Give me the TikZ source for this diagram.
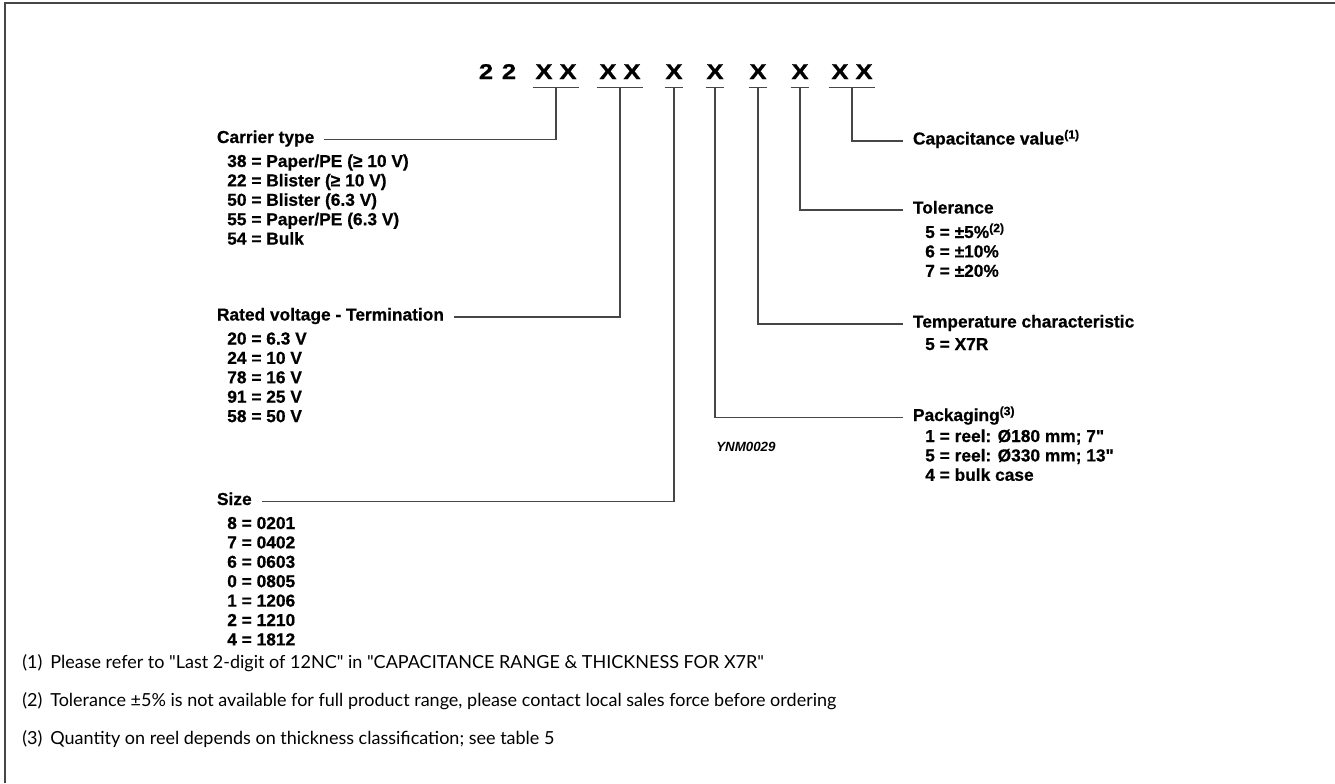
\documentclass[tikz,border=0pt]{standalone}
\usepackage{fontspec}
\setmainfont{Liberation Sans}[BoldFeatures={FakeBold=0.6}]
\newfontfamily\codefont{Liberation Sans}[BoldFeatures={FakeStretch=1.2,FakeBold=1}]
\newfontfamily\notefont{Lato}
\usetikzlibrary{positioning,calc}
\definecolor{rulegray}{RGB}{70,70,70}
\newcommand{\lst}[1]{\begin{tabular}[t]{@{}l@{}}#1\end{tabular}}

\begin{document}
\begin{tikzpicture}[x=0.75pt,y=-0.75pt,
  code/.style={font=\codefont\fontsize{16}{18}\selectfont\bfseries,inner xsep=0pt,inner ysep=6pt,anchor=base},
  two/.style={code,minimum width=34.5pt},
  one/.style={code,minimum width=13.5pt},
  head/.style={font=\fontsize{13}{14.55}\selectfont\bfseries,inner sep=0pt,outer xsep=7.5pt,anchor=base west},
  items/.style={font=\fontsize{13}{14.55}\selectfont\bfseries,inner sep=0pt,anchor=base west},
  note/.style={font=\notefont\fontsize{13.5}{16}\selectfont,inner sep=0pt,anchor=base west},
  conn/.style={draw=rulegray,line width=0.8pt}]
\useasboundingbox (0,0) rectangle (1335,783);
\draw[rulegray,line width=1pt] (5,783) -- (5,3) -- (1335,3);

% type code
\node[code] (d1) at (486,79) {2};
\node[code] (d2) at (509,79) {2};
\node[two] (g1) at (556,79) {X\kern5.25pt X};
\node[two] (g2) at (620,79) {X\kern5.25pt X};
\node[one] (g3) at (674,79) {X};
\node[one] (g4) at (715,79) {X};
\node[one] (g5) at (758,79) {X};
\node[one] (g6) at (800,79) {X};
\node[two] (g7) at (852,79) {X\kern5.25pt X};
\foreach \g in {g1,g2,g3,g4,g5,g6,g7}
  \draw[conn] (\g.south west) -- (\g.south east);

% left side
\node[head] (car) at (207,143) {Carrier type};
\node[items] (carl) at (227,167) {\lst{38 = Paper/PE (≥ 10 V)\\22 = Blister (≥ 10 V)\\50 = Blister (6.3 V)\\55 = Paper/PE (6.3 V)\\54 = Bulk}};
\node[head] (rat) at (207,320.5) {Rated voltage - Termination};
\node[items] (ratl) at (227,344.5) {\lst{20 = 6.3 V\\24 = 10 V\\78 = 16 V\\91 = 25 V\\58 = 50 V}};
\node[head] (siz) at (207,505) {Size};
\node[items] (sizl) at (227,529) {\lst{8 = 0201\\7 = 0402\\6 = 0603\\0 = 0805\\1 = 1206\\2 = 1210\\4 = 1812}};

% right side
\node[head] (cap) at (903,144.5) {Capacitance value\textsuperscript{(1)}};
\node[head] (tol) at (903,213.5) {Tolerance};
\node[items] (toll) at (925,238) {\lst{5 = ±5\%\textsuperscript{(2)}\\6 = ±10\%\\7 = ±20\%}};
\node[head] (tmp) at (903,327.5) {Temperature characteristic};
\node[items] (tmpl) at (925,350) {\lst{5 = X7R}};
\node[head] (pak) at (903,421) {Packaging\textsuperscript{(3)}};
\node[items] (pakl) at (925,442) {\lst{1 = reel: Ø180 mm; 7\textquotedbl\\5 = reel: Ø330 mm; 13\textquotedbl\\4 = bulk case}};
\node[items,font=\fontsize{10}{12}\selectfont\bfseries\itshape] (ynm) at (716,451) {YNM0029};

\draw[conn] (g1.south) |- (car.mid east);
\draw[conn] (g2.south) |- (rat.mid east);
\draw[conn] (g3.south) |- (siz.mid east);
\draw[conn] (g4.south) |- (pak.mid west);
\draw[conn] (g5.south) |- (tmp.mid west);
\draw[conn] (g6.south) |- (tol.mid west);
\draw[conn] (g7.south) |- (cap.mid west);

% footnotes
\node[note] (n1) at (22,668) {(1)\hspace{6pt}Please refer to "Last 2-digit of 12NC" in "CAPACITANCE RANGE \& THICKNESS FOR X7R"};
\node[note] (n2) at (22,706) {(2)\hspace{6pt}Tolerance ±5\% is not available for full product range, please contact local sales force before ordering};
\node[note] (n3) at (22,744) {(3)\hspace{6pt}Quantity on reel depends on thickness classification; see table 5};
\end{tikzpicture}
\end{document}
